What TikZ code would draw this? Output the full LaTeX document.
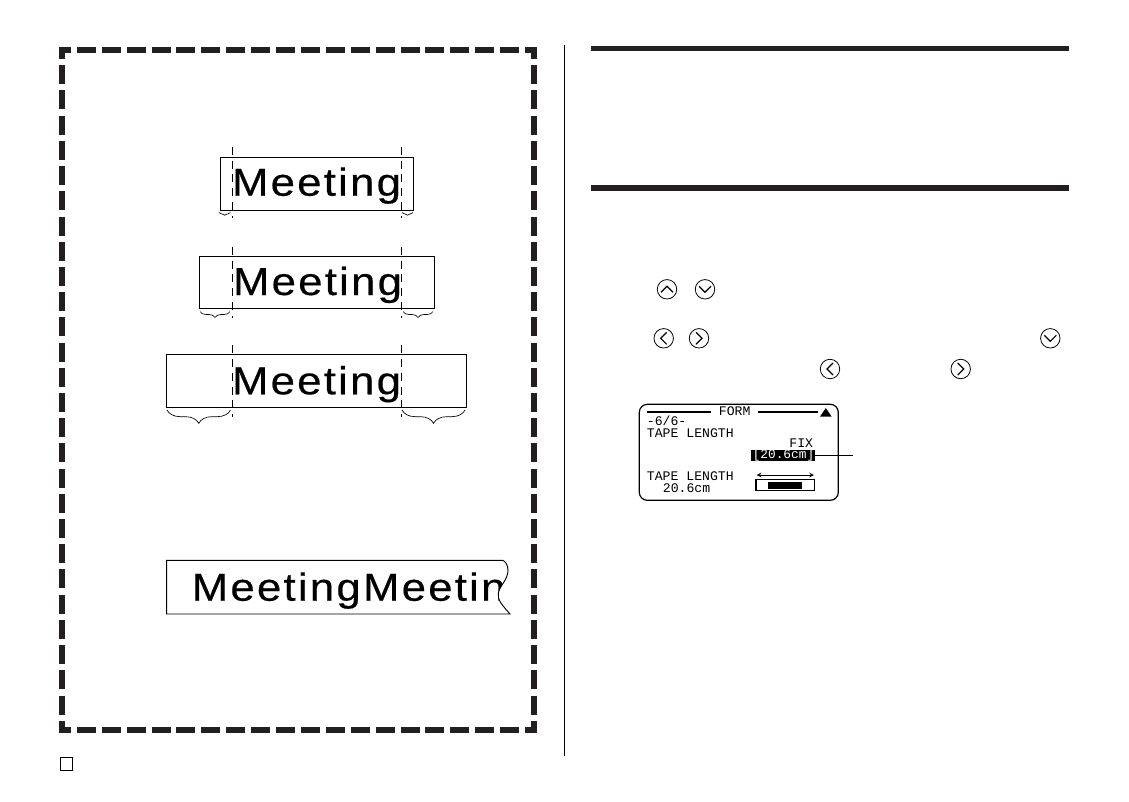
\documentclass[tikz,border=0pt]{standalone}
\usepackage{fontspec}
\usetikzlibrary{decorations.pathreplacing}
\newfontfamily\tapefont[LetterSpace=5.7,FakeStretch=1.12,FakeBold=0.4]{Liberation Sans}
\newfontfamily\lcdfont{Liberation Mono}
\definecolor{inkblack}{HTML}{231F20}
\tikzset{
  tapebox/.style={draw,inner sep=0pt,line width=0.75pt},
  tapeword/.style={anchor=base,inner sep=0pt,font=\tapefont\fontsize{29.3}{30}\selectfont},
  guide/.style={line width=0.6pt,dash pattern=on 6pt off 4.4pt},
  tapebrace/.style={decorate,line width=0.5pt,decoration={brace,amplitude=#1}},
  keybtn/.style={circle,draw,inner sep=0pt,minimum size=14.6pt,line width=0.6pt},
  lcdtext/.style={anchor=base west,inner sep=0pt,font=\lcdfont\fontsize{9.85}{10}\selectfont},
  heavyrule/.style={line width=3.9pt,inkblack}
}
\begin{document}
\begin{tikzpicture}[x=0.75pt,y=-0.75pt]
    \useasboundingbox (0,0) rectangle (1129,801);
    % dashed frame
    \draw [inkblack,line width=4.5pt,dash pattern=on 14.25pt off 4.42pt,dash phase=5.25pt] (59,50) -- (537,50);
    \draw [inkblack,line width=4.5pt,dash pattern=on 14.25pt off 4.42pt,dash phase=5.25pt] (59,730) -- (537,730);
    \draw [inkblack,line width=4.5pt,dash pattern=on 14.25pt off 4.66pt,dash phase=5.25pt] (62,47) -- (62,733);
    \draw [inkblack,line width=4.5pt,dash pattern=on 14.25pt off 4.66pt,dash phase=5.25pt] (534,47) -- (534,733);
    % page divider and page box
    \draw [line width=0.75pt] (564.5,45) -- (564.5,756);
    \node [draw,inner sep=0pt,minimum size=9.6pt,line width=0.75pt] (pageBox) at (66.5,764) {};
    % rules
    \draw [heavyrule] (591,48.5) -- (1069,48.5);
    \draw [heavyrule] (591,188) -- (1069,188);
    % tape 1
    \node [tapebox,minimum width=145pt,minimum height=39.8pt] (tapeA) at (317,183.8) {};
    \node [tapeword] (wordA) at (316.5,195.7) {Meeting};
    \draw [guide] (232.3,146.7) -- (232.3,218);
    \draw [guide] (401.7,146.7) -- (401.7,218);
    \draw [tapebrace=2pt] (230.5,212.5) -- (219,212.5);
    \draw [tapebrace=2pt] (413,212.5) -- (402,212.5);
    % tape 2
    \node [tapebox,minimum width=176pt,minimum height=39pt] (tapeB) at (317,282.3) {};
    \node [tapeword] (wordB) at (317.5,295) {Meeting};
    \draw [guide] (232.3,246.7) -- (232.3,318);
    \draw [guide] (401.7,246.7) -- (401.7,318);
    \draw [tapebrace=4.5pt] (230,311.5) -- (200,311.5);
    \draw [tapebrace=4.5pt] (433,311.5) -- (403,311.5);
    % tape 3
    \node [tapebox,minimum width=224.7pt,minimum height=39.5pt] (tapeC) at (316.5,380.7) {};
    \node [tapeword] (wordC) at (316.5,394.3) {Meeting};
    \draw [guide] (232.3,345) -- (232.3,417);
    \draw [guide] (401.7,345) -- (401.7,417);
    \draw [tapebrace=10pt] (230.5,410) -- (167,410);
    \draw [tapebrace=10pt] (465,410) -- (402,410);
    % tape 4
    \begin{scope}
      \clip (502.7,560.3) -- (166.7,560.3) -- (166.7,614) -- (510,614) .. controls (503,606) and (497,600) .. (498.3,593) .. controls (500,585) and (508,580) .. (508,570) .. controls (508,565) and (505,561) .. (502.7,560.3);
      \node [tapeword,anchor=base west] (wordD) at (191.5,600.7) {MeetingMeeting};
    \end{scope}
    \draw [line width=0.7pt] (502.7,560.3) -- (166.7,560.3) -- (166.7,614) -- (510,614) .. controls (503,606) and (497,600) .. (498.3,593) .. controls (500,585) and (508,580) .. (508,570) .. controls (508,565) and (505,561) .. (502.7,560.3);
    % keys
    \foreach \keyname/\keyx/\keyy/\keyang in {keyUp/667/289.3/0,keyDown/705/289.3/180,keyLeft/663.7/338.3/90,keyRight/699/338.3/-90,keyDownB/1050.3/338.3/180,keyLeftB/830/369/90,keyRightB/960.7/369/-90} {
      \node [keybtn] (\keyname) at (\keyx,\keyy) {};
      \draw [line width=0.9pt,shift={(\keyx,\keyy)},rotate=\keyang] (-6,3) -- (0,-3) -- (6,3);
    }
    % display
    \draw [line width=0.9pt,rounded corners=6pt] (639.3,404.3) rectangle (838.3,500.3);
    \draw [line width=1.2pt] (646.7,411.7) -- (710.7,411.7);
    \draw [line width=1.2pt] (758.3,411.7) -- (818.3,411.7);
    \node [lcdtext] (lcdForm) at (718.7,415.7) {FORM};
    \fill (820,416.7) -- (831.7,416.7) -- (825.8,408) -- cycle;
    \node [lcdtext] (lcdPage) at (646.7,425.7) {-6/6-};
    \node [lcdtext] (lcdTape) at (646.7,437.3) {TAPE LENGTH};
    \node [lcdtext,anchor=base east] (lcdFix) at (813.3,447) {FIX};
    \node [fill=black,inner sep=0pt,minimum width=47.5pt,minimum height=8pt] (lcdSel) at (783,455.3) {};
    \node [lcdtext,text=white,font=\lcdfont\fontsize{9.6}{10}\selectfont] (lcdValue) at (752.5,458.7) {[20.6cm]};
    \coordinate (leadEnd) at (853.3,455.3);
    \draw [line width=0.75pt] (lcdSel.east) -- (leadEnd);
    \node [lcdtext] (lcdTapeB) at (646.7,480.3) {TAPE LENGTH};
    \node [lcdtext] (lcdLen) at (662.7,492) {20.6cm};
    \draw [line width=0.6pt,stealth-stealth] (756.7,475) -- (814,475);
    \draw [line width=0.9pt] (756,479.3) rectangle (814.3,490.7);
    \fill (767.7,482.3) rectangle (802.3,488.7);
\end{tikzpicture}
\end{document}
